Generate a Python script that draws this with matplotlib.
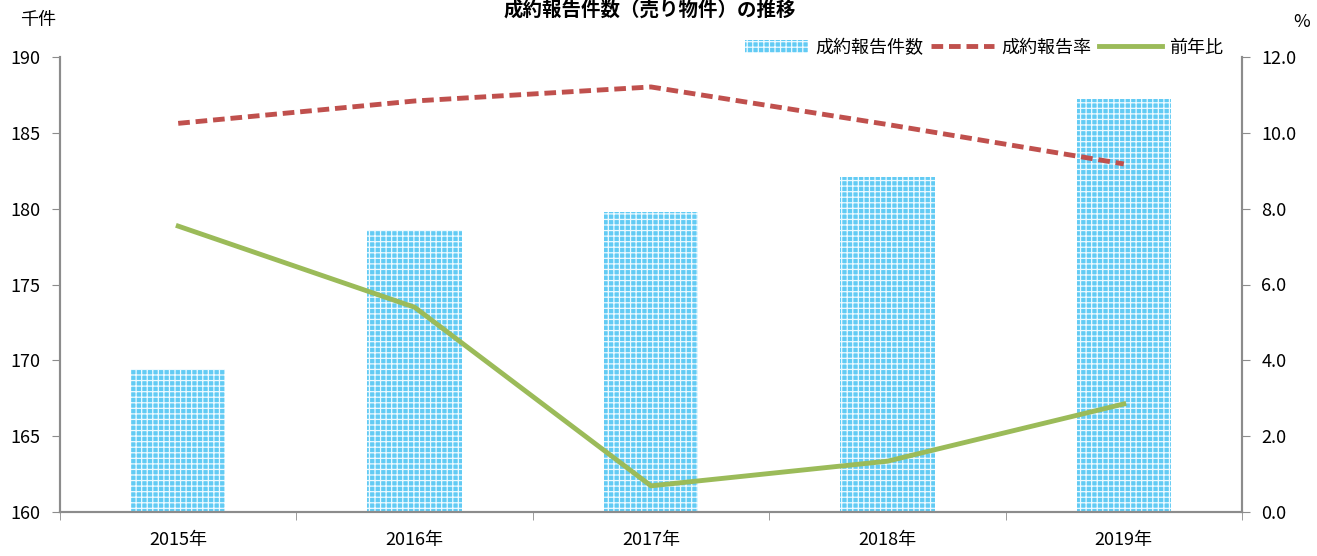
import numpy as np
import matplotlib.pyplot as plt
import matplotlib as mpl

plt.rcParams['font.family'] = ['Noto Sans CJK JP', 'DejaVu Sans']
mpl.rcParams['hatch.linewidth'] = 0.9

# data
years = ['2015年', '2016年', '2017年', '2018年', '2019年']
counts = [169.4, 178.6, 179.8, 182.1, 187.2]       # 成約報告件数 (千件)
rate = [10.25, 10.84, 11.21, 10.22, 9.18]           # 成約報告率 (%)
yoy = [7.54, 5.40, 0.69, 1.34, 2.85]                # 前年比 (%)

axis_grey = '#8c8c8c'

fig = plt.figure(figsize=(13.17, 5.56), dpi=100)
ax = fig.add_axes([60/1317, 44/556, (1242-60)/1317, (512-57)/556])
ax2 = ax.twinx()

x = np.arange(len(years))
bars = ax.bar(x, counts, width=0.40, color='#62cbf4', edgecolor='#eefaff',
              linewidth=0, hatch='+++', label='成約報告件数', zorder=2)

l1, = ax2.plot(x, rate, color='#c0504d', linestyle=(0, (2.4, 1.2)), linewidth=3.5,
               label='成約報告率')
l2, = ax2.plot(x, yoy, color='#9bbb59', linewidth=3.5, label='前年比')

ax.set_xlim(-0.5, 4.5)
ax.set_ylim(160, 190)
ax.set_yticks(np.arange(160, 191, 5))
ax2.set_ylim(0, 12)
ax2.set_yticks(np.arange(0, 12.1, 2))
ax2.set_yticklabels([f'{v:.1f}' for v in np.arange(0, 12.1, 2)])

ax.set_xticks(x)
ax.set_xticklabels(years)
ax.set_xticks(np.arange(-0.5, 4.6, 1), minor=True)
ax.tick_params(axis='x', which='major', length=0, pad=14, labelsize=13)
ax.tick_params(axis='x', which='minor', length=6, color=axis_grey, direction='out')
ax.tick_params(axis='y', length=6, color=axis_grey, labelsize=13, pad=8)
ax2.tick_params(axis='y', length=6, color=axis_grey, labelsize=13, pad=8)

for a in (ax, ax2):
    a.spines['top'].set_visible(False)
    for s in ('left', 'right', 'bottom'):
        a.spines[s].set_color(axis_grey)
        a.spines[s].set_linewidth(1.5)

ax.legend(handles=[bars, l1, l2], loc='lower right', bbox_to_anchor=(0.99, 0.985),
          ncol=3, frameon=False, fontsize=13, handlelength=3.5, handletextpad=0.4,
          columnspacing=0.4, borderaxespad=0)

fig.text(20/1317, 1 - 20/556, '千件', fontsize=13, va='center', ha='left')
fig.text(1302/1317, 1 - 22/556, '%', fontsize=13, va='center', ha='center')
fig.text(650/1317, 1 - 10/556, '成約報告件数（売り物件）の推移', fontsize=14,
         fontweight='bold', va='center', ha='center')

plt.savefig('out.png', dpi=100)
